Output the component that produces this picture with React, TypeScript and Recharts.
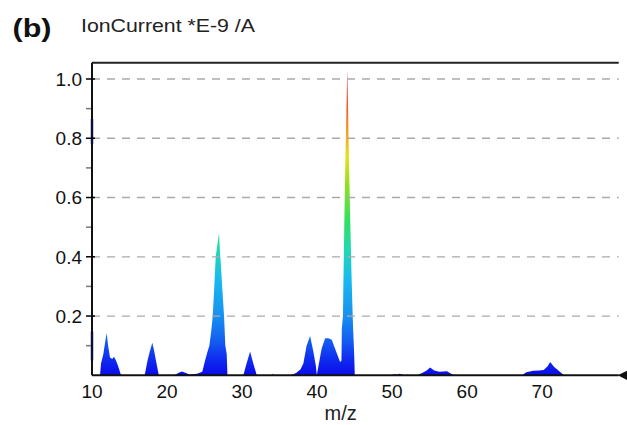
import React from "react";
import {
  ComposedChart,
  Area,
  Line,
  XAxis,
  YAxis,
  ReferenceLine,
  ReferenceDot,
} from "recharts";

// m/z positions and ion current (×1e-9 A)
const mzValues = [
  10.0, 11.07, 11.2, 11.5, 11.8, 11.96, 12.15, 12.4, 12.7, 12.93, 13.2, 13.5, 13.87,
  17.0, 17.1, 17.4, 17.7, 18.04, 18.3, 18.6, 18.9,
  21.0, 21.5, 22.0, 22.5, 23.0, 24.0, 24.7, 25.07, 25.4, 25.64, 25.9, 26.09, 26.3, 26.49, 26.7, 26.93,
  27.05, 27.16, 27.35, 27.6, 27.77, 27.9, 27.96, 28.05,
  30.17, 30.6, 31.07, 31.5, 31.96,
  34.0, 34.1, 34.2,
  36.5, 37.2, 37.8, 38.17, 38.6, 39.07, 39.5, 39.85, 39.96,
  40.17, 40.6, 41.07, 41.5, 41.96, 42.4, 42.84, 43.07, 43.25, 43.3, 43.45, 43.5, 43.62, 43.75, 43.9, 44.02,
  44.13, 44.27, 44.44, 44.6, 44.7, 44.8, 44.9, 44.97, 45.02,
  50.0, 50.3, 50.6, 51.0, 51.3, 51.6,
  53.3, 54.0, 54.6, 55.07, 55.6, 56.3, 57.3, 57.8, 58.27,
  67.3, 67.9, 68.8, 69.6, 70.2, 70.7, 71.07, 71.6, 72.2, 72.9, 80.2,
];
const intensity = [
  0, 0, 0.04, 0.07, 0.12, 0.143, 0.1, 0.06, 0.055, 0.063, 0.05, 0.03, 0,
  0, 0.01, 0.05, 0.08, 0.11, 0.08, 0.04, 0,
  0, 0.008, 0.013, 0.008, 0.003, 0.005, 0.012, 0.05, 0.08, 0.1, 0.15, 0.2, 0.3, 0.4, 0.44, 0.48,
  0.42, 0.38, 0.3, 0.2, 0.1, 0.08, 0.07, 0,
  0, 0.04, 0.08, 0.04, 0,
  0, 0.006, 0,
  0, 0.008, 0.02, 0.04, 0.1, 0.133, 0.08, 0.03, 0,
  0.03, 0.09, 0.125, 0.125, 0.12, 0.09, 0.06, 0.045, 0.05, 0.16, 0.2, 0.3, 0.5, 0.7, 0.88, 1.03,
  0.9, 0.7, 0.5, 0.33, 0.24, 0.16, 0.1, 0.05, 0,
  0, 0.004, 0.002, 0.005, 0.003, 0,
  0, 0.008, 0.016, 0.026, 0.016, 0.012, 0.014, 0.006, 0,
  0, 0.01, 0.015, 0.016, 0.018, 0.03, 0.045, 0.028, 0.015, 0, 0,
];

const xTicks = [10, 20, 30, 40, 50, 60, 70];
const majorTicks = [0.2, 0.4, 0.6, 0.8, 1.0];
const minorTicks = [0.1, 0.3, 0.5, 0.7, 0.9];
const gridValues = [0.2, 0.4, 0.6, 0.8, 1.0];
const xDomain = [10, 80.2];
const yDomain = [0, 1.055];

// colour ramp (value -> colour)
const rampValues = [1.03, 0.92, 0.82, 0.74, 0.64, 0.52, 0.42, 0.32, 0.2, 0.12, 0.06, 0];
const rampColors = [
  "#e01818", "#f04a1e", "#f8a020", "#e8e020", "#90e020", "#30e060",
  "#20d8b8", "#18b8f0", "#1890f0", "#1460f0", "#1030f0", "#0a0ae8",
];

// blue marks on the left axis
const axisMarks = [
  [0.78, 0.865],
  [0.05, 0.148],
];

const data = mzValues.map((mz, i) => ({ mz, v: intensity[i] }));
const maxI = Math.max(...intensity);
const ticksAll = [...minorTicks, ...majorTicks].sort((a, b) => a - b);
const FONT = "Arial, 'Liberation Sans', Helvetica, sans-serif";

const LeftTick = (props: any) => {
  const { x, y, payload } = props;
  const major = majorTicks.includes(payload.value);
  return (
    <g>
      <line x1={x} x2={x + (major ? 9 : 5)} y1={y} y2={y} stroke={major ? "#000" : "#777"} strokeWidth={1.5} />
      {major && (
        <text x={x - 4} y={y} dy="0.36em" textAnchor="end" fontSize={19} fontFamily={FONT} fill="#111">
          {payload.value.toFixed(1)}
        </text>
      )}
    </g>
  );
};

const RightTick = (props: any) => {
  const { x, y, payload } = props;
  const major = majorTicks.includes(payload.value);
  return (
    <line x1={x} x2={x - (major ? 10 : 5)} y1={y} y2={y} stroke={major ? "#000" : "#777"} strokeWidth={1.5} />
  );
};

const Arrow = (props: any) => {
  const { cx, cy } = props;
  if (cx == null || cy == null) return null;
  return <polygon points={`${cx - 1},${cy} ${cx + 9},${cy - 5} ${cx + 9},${cy + 5}`} fill="#111" />;
};

export default function App() {
  return (
    <div style={{ position: "absolute", left: 0, top: 0, width: 627, height: 425, background: "#fff" }}>
      <ComposedChart
        width={627}
        height={425}
        data={data}
        margin={{ top: 62.7, right: 8.3, bottom: 20, left: 0 }}
      >
        <defs>
          <linearGradient id="jet" x1="0" y1="0" x2="0" y2="1">
            {rampValues.map((v, i) => (
              <stop key={i} offset={Math.min(1, Math.max(0, 1 - v / maxI))} stopColor={rampColors[i]} />
            ))}
          </linearGradient>
        </defs>
        <XAxis
          dataKey="mz"
          type="number"
          domain={xDomain}
          allowDataOverflow
          ticks={xTicks}
          interval={0}
          tickLine={false}
          tickMargin={3}
          height={29.7}
          axisLine={{ stroke: "#111", strokeWidth: 2 }}
          tick={{ fontSize: 19, fontFamily: FONT, fill: "#111" }}
        />
        <YAxis
          yAxisId="left"
          type="number"
          domain={yDomain}
          allowDataOverflow
          ticks={ticksAll}
          interval={0}
          tickLine={false}
          tickMargin={0}
          width={92}
          axisLine={{ stroke: "#111", strokeWidth: 2 }}
          tick={<LeftTick />}
        />
        <YAxis
          yAxisId="right"
          orientation="right"
          type="number"
          domain={yDomain}
          allowDataOverflow
          ticks={ticksAll}
          interval={0}
          tickLine={false}
          tickMargin={0}
          width={0}
          axisLine={{ stroke: "#111", strokeWidth: 2 }}
          tick={<RightTick />}
        />
        {gridValues.map((g) => (
          <ReferenceLine key={g} yAxisId="left" y={g} stroke="#aaa" strokeWidth={1.3} strokeDasharray="8 7" />
        ))}
        <ReferenceLine yAxisId="left" y={yDomain[1]} stroke="#222" strokeWidth={2} ifOverflow="visible" />
        <Area
          yAxisId="left"
          type="linear"
          dataKey="v"
          baseValue={0}
          fill="url(#jet)"
          fillOpacity={1}
          stroke="none"
          isAnimationActive={false}
        />
        <Line
          yAxisId="right"
          type="linear"
          dataKey="v"
          stroke="none"
          dot={false}
          activeDot={false}
          isAnimationActive={false}
        />
        {axisMarks.map((m, i) => (
          <ReferenceLine
            key={i}
            yAxisId="left"
            segment={[
              { x: xDomain[0], y: m[0] },
              { x: xDomain[0], y: m[1] },
            ]}
            stroke="#1a1aff"
            strokeWidth={2.5}
          />
        ))}
        <ReferenceDot
          yAxisId="left"
          x={xDomain[1]}
          y={0}
          ifOverflow="visible"
          shape={<Arrow />}
        />
      </ComposedChart>
      <svg
        width={627}
        height={425}
        style={{ position: "absolute", left: 0, top: 0, pointerEvents: "none" }}
      >
        <text x={12.5} y={37} fontSize={26} fontWeight="bold" fontFamily={FONT} fill="#111" textLength={39} lengthAdjust="spacingAndGlyphs">
          (b)
        </text>
        <text x={81} y={31.7} fontSize={19} fontFamily={FONT} fill="#222" textLength={174} lengthAdjust="spacingAndGlyphs">
          IonCurrent *E-9 /A
        </text>
        <text x={340.7} y={420} fontSize={20} fontFamily={FONT} fill="#222" textAnchor="middle">
          m/z
        </text>
      </svg>
    </div>
  );
}
